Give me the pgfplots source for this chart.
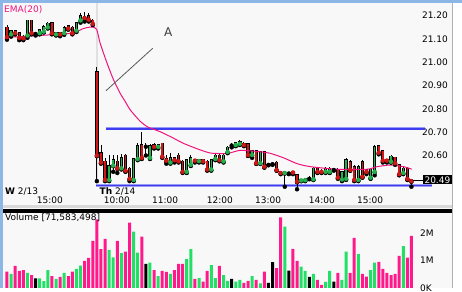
\documentclass[border=0pt]{standalone}
\usepackage{fontspec}
\setmainfont{DejaVu Sans}
\usepackage{pgfplots}
\usepackage{pgfplotstable}
\pgfplotsset{compat=1.18}
\definecolor{bg}{HTML}{F8F8F8}
\definecolor{frameblue}{HTML}{8CB6E6}
\definecolor{cup}{HTML}{22B14C}
\definecolor{cdn}{HTML}{D01818}
\definecolor{vpink}{HTML}{FF1A8C}
\definecolor{vgreen}{HTML}{22E066}
\definecolor{ema}{HTML}{F0147C}
\definecolor{hblue}{HTML}{3C3CF0}
\definecolor{hhalo}{HTML}{9A9AF6}

\pgfplotstableread{
n o h l c
0 21.150 21.158 21.097 21.108
2 21.135 21.140 21.120 21.125
3 21.125 21.130 21.095 21.105
4 21.110 21.115 21.095 21.103
6 21.180 21.182 21.120 21.125
11 21.170 21.172 21.120 21.125
13 21.125 21.130 21.112 21.120
15 21.155 21.160 21.140 21.145
16 21.150 21.155 21.120 21.125
19 21.195 21.215 21.175 21.190
20 21.200 21.210 21.175 21.183
21 21.180 21.185 21.160 21.165
22 20.960 20.980 20.490 20.600
23 20.610 20.645 20.565 20.570
24 20.575 20.590 20.490 20.495
27 20.575 20.600 20.525 20.545
29 20.600 20.605 20.530 20.535
30 20.545 20.550 20.490 20.500
33 20.645 20.700 20.585 20.590
36 20.645 20.652 20.630 20.637
38 20.652 20.655 20.590 20.595
39 20.588 20.600 20.565 20.578
41 20.590 20.595 20.570 20.580
42 20.600 20.610 20.570 20.575
43 20.575 20.580 20.525 20.530
46 20.582 20.585 20.570 20.578
48 20.580 20.585 20.570 20.575
49 20.575 20.580 20.535 20.540
52 20.600 20.610 20.575 20.580
58 20.652 20.660 20.640 20.645
59 20.649 20.655 20.598 20.602
61 20.621 20.625 20.565 20.567
63 20.616 20.620 20.548 20.552
66 20.571 20.575 20.535 20.538
67 20.530 20.535 20.520 20.525
70 20.530 20.535 20.520 20.527
71 20.516 20.520 20.455 20.488
76 20.548 20.552 20.525 20.530
77 20.535 20.540 20.525 20.530
81 20.540 20.545 20.500 20.505
84 20.573 20.580 20.535 20.538
85 20.552 20.560 20.490 20.495
87 20.573 20.580 20.505 20.509
88 20.538 20.540 20.520 20.530
91 20.640 20.645 20.605 20.612
92 20.620 20.625 20.570 20.578
93 20.582 20.585 20.570 20.578
95 20.592 20.595 20.560 20.567
96 20.560 20.565 20.515 20.520
98 20.545 20.550 20.495 20.500
99 20.498 20.500 20.466 20.490
}\downT

\pgfplotstableread{
n o h l c
1 21.120 21.140 21.110 21.135
5 21.115 21.182 21.105 21.180
8 21.125 21.140 21.120 21.138
9 21.132 21.158 21.128 21.152
10 21.150 21.172 21.145 21.167
12 21.120 21.132 21.115 21.126
14 21.125 21.155 21.118 21.148
17 21.136 21.175 21.130 21.170
18 21.180 21.210 21.170 21.198
25 20.495 20.600 20.490 20.557
26 20.557 20.600 20.530 20.580
28 20.545 20.605 20.540 20.590
31 20.495 20.590 20.490 20.585
32 20.585 20.655 20.580 20.640
35 20.590 20.650 20.585 20.640
37 20.637 20.650 20.630 20.645
40 20.570 20.610 20.565 20.590
44 20.530 20.585 20.525 20.580
45 20.560 20.600 20.555 20.590
47 20.576 20.585 20.570 20.580
50 20.540 20.585 20.535 20.580
51 20.585 20.605 20.580 20.600
53 20.575 20.605 20.570 20.600
54 20.615 20.640 20.610 20.635
56 20.645 20.660 20.640 20.655
57 20.650 20.665 20.645 20.660
60 20.602 20.625 20.590 20.621
62 20.567 20.620 20.565 20.616
68 20.525 20.535 20.466 20.530
72 20.493 20.500 20.490 20.497
73 20.494 20.505 20.490 20.500
75 20.498 20.550 20.495 20.545
78 20.530 20.550 20.525 20.545
79 20.530 20.550 20.525 20.545
82 20.497 20.535 20.490 20.530
83 20.500 20.590 20.495 20.580
86 20.495 20.560 20.490 20.552
89 20.505 20.545 20.500 20.541
90 20.530 20.645 20.515 20.638
94 20.573 20.600 20.570 20.596
97 20.525 20.550 20.520 20.545
}\upT

\pgfplotstableread{
n o h l c
7 21.124 21.130 21.115 21.124
34 20.640 20.655 20.600 20.640
55 20.645 20.655 20.635 20.645
64 20.562 20.568 20.558 20.562
65 20.565 20.570 20.560 20.565
69 20.525 20.530 20.520 20.525
74 20.502 20.510 20.498 20.502
80 20.540 20.545 20.535 20.540
}\flatT

\newcommand{\fs}{\fontsize{9}{10}\selectfont}

\begin{document}
\begin{tikzpicture}
\begin{scope}[x=1pt,y=1pt]
\path[use as bounding box] (0,0) rectangle (462,288);
\clip (0,0) rectangle (462,288);
\fill[white] (0,0) rectangle (462,288);
\fill[bg] (3,0) rectangle (451.5,285);
\fill[frameblue] (0,0) rectangle (3,288);
\fill[frameblue] (0,285) rectangle (462,288);
\fill[black!30] (451.5,0) rectangle (452.5,285);
\fill[black!12] (95.5,101) rectangle (97.5,285);
\fill[black!15] (3,79.5) rectangle (451.5,82.5);
\fill[black] (3,74.5) rectangle (451.5,78.7);
\end{scope}

\begin{axis}[
  at={(3pt,92pt)}, anchor=south west, scale only axis,
  width=448.5pt, height=193pt,
  xmin=-0.979, xmax=108.81, ymin=20.42618, ymax=21.25451,
  axis line style={draw=none}, tick style={draw=none},
  xtick={10.5,26.9,38.7,52.1,63.9,77.1,88.9},
  xticklabels={15:00,10:00,11:00,12:00,13:00,14:00,15:00},
  xticklabel style={anchor=north, inner sep=0pt, yshift=-0.7pt},
  ytick={20.6,20.7,20.8,20.9,21.0,21.1,21.2},
  yticklabel pos=right,
  yticklabel style={anchor=east, inner sep=0pt, xshift=-3.5pt},
  y tick label style={/pgf/number format/.cd, fixed, fixed zerofill, precision=2, assume math mode=true},
  tick label style={font=\fs},
]
% horizontal lines
\addplot[hhalo, line width=3.6pt, forget plot] coordinates {(24.2,20.715) (102.3,20.715)};
\addplot[hblue, line width=1.7pt, forget plot] coordinates {(24.2,20.715) (102.3,20.715)};
\addplot[hhalo, line width=3.6pt, forget plot] coordinates {(21.9,20.471) (104.0,20.471)};
\addplot[hblue, line width=1.7pt, forget plot] coordinates {(21.9,20.471) (104.0,20.471)};
% wicks
\addplot[black, only marks, mark=none, forget plot, error bars/.cd, y dir=plus, y explicit, error mark=none, error bar style={black, line width=0.9pt}]
  table[x=n, y=l, y error expr=\thisrow{h}-\thisrow{l}] {\downT};
\addplot[black, only marks, mark=none, forget plot, error bars/.cd, y dir=plus, y explicit, error mark=none, error bar style={black, line width=0.9pt}]
  table[x=n, y=l, y error expr=\thisrow{h}-\thisrow{l}] {\upT};
\addplot[black, only marks, mark=none, forget plot, error bars/.cd, y dir=plus, y explicit, error mark=none, error bar style={black, line width=0.9pt}]
  table[x=n, y=l, y error expr=\thisrow{h}-\thisrow{l}] {\flatT};
% bodies outline
\addplot[black, only marks, mark=none, forget plot, error bars/.cd, y dir=plus, y explicit, error mark=none, error bar style={black, line width=3.3pt}]
  table[x=n, y expr=\thisrow{c}-0.003, y error expr=\thisrow{o}-\thisrow{c}+0.006] {\downT};
\addplot[black, only marks, mark=none, forget plot, error bars/.cd, y dir=plus, y explicit, error mark=none, error bar style={black, line width=3.3pt}]
  table[x=n, y expr=\thisrow{o}-0.003, y error expr=\thisrow{c}-\thisrow{o}+0.006] {\upT};
\addplot[black, only marks, mark=none, forget plot, error bars/.cd, y dir=plus, y explicit, error mark=none, error bar style={black, line width=3.3pt}]
  table[x=n, y expr=\thisrow{o}-0.0025, y error expr=0.005] {\flatT};
% bodies fill
\addplot[cdn, only marks, mark=none, forget plot, error bars/.cd, y dir=plus, y explicit, error mark=none, error bar style={cdn, line width=1.5pt}]
  table[x=n, y=c, y error expr=\thisrow{o}-\thisrow{c}] {\downT};
\addplot[cup, only marks, mark=none, forget plot, error bars/.cd, y dir=plus, y explicit, error mark=none, error bar style={cup, line width=1.5pt}]
  table[x=n, y=o, y error expr=\thisrow{c}-\thisrow{o}] {\upT};
% EMA
\addplot[ema, line width=1pt, smooth, tension=0.4, mark=none] coordinates {
(0,21.107) (8,21.115) (15.5,21.124) (17.2,21.132) (18.4,21.143) (19.9,21.150) (21.1,21.151)
(22.0,21.139) (22.8,21.082) (24.5,20.996) (26.1,20.924) (27.7,20.867) (29.0,20.830) (30.2,20.795)
(32.6,20.747) (34.5,20.722) (37.5,20.702) (40.8,20.674) (43.2,20.652) (47.3,20.624) (50,20.610)
(54,20.609) (57.1,20.622) (62,20.616) (64.5,20.609) (67.7,20.590) (71,20.565) (74.3,20.552)
(80.8,20.541) (88.1,20.541) (90.6,20.552) (93.8,20.559) (97.1,20.552) (99.1,20.541)};
\end{axis}

\begin{axis}[
  at={(3pt,0pt)}, anchor=south west, scale only axis,
  width=448.5pt, height=74pt,
  xmin=-0.979, xmax=108.81, ymin=0, ymax=2.6812,
  axis line style={draw=none}, tick style={draw=none},
  xtick=\empty,
  ytick={0,1,2}, yticklabels={0K,1M,2M},
  yticklabel pos=right,
  yticklabel style={anchor=west, inner sep=0pt, xshift=-31.5pt},
  tick label style={font=\fs},
]
\addplot[ybar, bar width=3pt, bar shift=0pt, fill=vpink, draw=none] coordinates {
(0,.59)(2,.80)(3,.62)(4,.65)(6,.47)(11,.43)(13,.40)(15,.43)(16,.59)(19,.98)(20,1.09)(21,1.71)
(22,2.49)(23,1.41)(24,1.78)(27,1.71)(29,1.32)(30,2.37)(33,1.86)(36,.65)(38,.62)(39,.58)(41,.65)
(42,.87)(43,.87)(46,.33)(48,.23)(49,.62)(52,.80)(58,.19)(59,.26)(61,.29)(63,.59)(66,.72)(67,2.56)
(70,1.42)(71,.98)(76,.29)(77,.11)(81,.55)(84,.55)(85,1.82)(87,.51)(88,.41)(91,.95)(92,.69)(93,.55)
(94,.47)(95,.51)(96,1.16)(98,1.10)(99,1.89)};
\addplot[ybar, bar width=3pt, bar shift=0pt, fill=vgreen, draw=none] coordinates {
(1,.51)(5,.55)(8,.35)(9,.25)(10,.65)(12,.33)(14,.55)(17,.69)(18,.81)
(25,1.38)(26,1.11)(28,1.26)(31,2.04)(32,1.28)(35,.92)(37,.43)(40,.51)(44,1.05)(45,1.41)(47,.36)
(50,.83)(51,.36)(53,.47)(54,.26)(56,.23)(57,.29)(60,.43)(62,.17)(68,2.22)(72,.77)(73,.62)(75,.51)
(78,.22)(79,.62)(82,.29)(83,1.32)(86,1.23)(89,.65)(90,.92)(97,1.52)};
\addplot[ybar, bar width=3pt, bar shift=0pt, fill=black, draw=none] coordinates {
(7,.35)(34,.87)(55,.33)(64,.19)(65,.94)(69,.63)(74,.40)(80,.23)};
\end{axis}

\begin{scope}[x=1pt,y=1pt]
\node[anchor=base west, inner sep=0pt, text=ema, font=\fs] at (4,275.2) {EMA(20)};
\node[anchor=base west, inner sep=0pt, font=\fs] at (5,93.7) {\textbf{W} 2/13};
\node[anchor=base west, inner sep=0pt, font=\fs] at (99.5,93.7) {\textbf{Th} 2/14};
\node[anchor=base west, inner sep=0pt, font=\fs] at (5,67.5) {Volume [71,583,498]};
\fill[black] (423,103.5) rectangle (452,112.5);
\node[anchor=east, inner sep=0pt, text=white, font=\fs] at (450.5,108) {20.49};
\draw[black, line width=0.8pt] (413,108) -- (423,108);
\draw[black!65, line width=0.8pt] (106,197.3) -- (152.7,239.7);
\node[inner sep=0pt, text=black!75, font=\fontsize{12}{12}\selectfont] at (168.3,256.3) {A};
\end{scope}
\end{tikzpicture}
\end{document}
